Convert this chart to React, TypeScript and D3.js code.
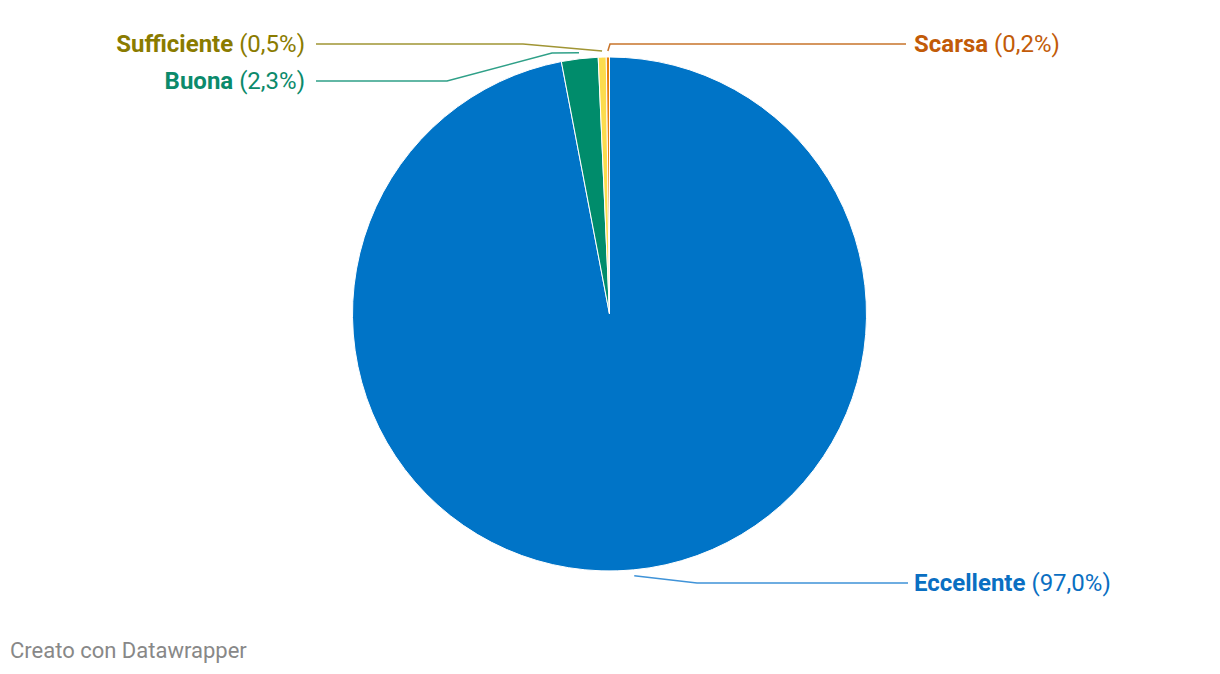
import React from "react";
import * as d3 from "d3";

const categories = ["Eccellente", "Buona", "Sufficiente", "Scarsa"];
const values = [97.0, 2.3, 0.5, 0.2];
const valueLabels = ["97,0%", "2,3%", "0,5%", "0,2%"];
const sliceColors = ["#0074c7", "#008c6b", "#fcdc4d", "#e87f0e"];
const textColors = ["#0a6fc2", "#0b8a6b", "#8a7b00", "#c25b08"];
const lineColors = ["#3f93d8", "#2fa088", "#a09534", "#c8742b"];

const W = 1220, H = 674;
const cx = 609.5, cy = 314, R = 257;

// label layout: side, label y, elbow points (x,y) after the start point
const layout = [
  { side: "right", y: 583, elbows: [[697, 583]], endX: 908, textX: 914 },
  { side: "left", y: 81, elbows: [[552, 53], [447, 81]], endX: 316, textX: 305 },
  { side: "left", y: 44, elbows: [[523, 44]], endX: 316, textX: 305 },
  { side: "right", y: 44, elbows: [[610, 44]], endX: 906, textX: 914 },
];

export default function App() {
  const pie = d3.pie<number>().sort(null).value((d) => d);
  const arcs = pie(values);
  const arc = d3.arc<d3.PieArcDatum<number>>().innerRadius(0).outerRadius(R);
  const line = d3.line();

  return (
    <div style={{ position: "absolute", left: 0, top: 0 }}>
      <svg width={W} height={H} style={{ display: "block", fontFamily: "Roboto, sans-serif" }}>
        <rect width={W} height={H} fill="#fff" />
        <g transform={`translate(${cx},${cy})`}>
          {arcs.map((a, i) => (
            <path key={i} d={arc(a) || ""} fill={sliceColors[i]} stroke="#fff" strokeWidth={1} />
          ))}
        </g>
        {arcs.map((a, i) => {
          const mid = (a.startAngle + a.endAngle) / 2;
          const rr = R + 6;
          const sx = cx + Math.sin(mid) * rr;
          const sy = cy - Math.cos(mid) * rr;
          const L = layout[i];
          const pts: [number, number][] = [[sx, sy], ...(L.elbows as [number, number][]), [L.endX, L.y]];
          return (
            <path key={"l" + i} d={line(pts) || ""} fill="none" stroke={lineColors[i]} strokeWidth={1.5} />
          );
        })}
        {categories.map((c, i) => {
          const L = layout[i];
          return (
            <text
              key={"t" + i}
              x={L.textX}
              y={L.y}
              dy="0.35em"
              textAnchor={L.side === "right" ? "start" : "end"}
              fill={textColors[i]}
              fontSize={24}
            >
              <tspan fontWeight={700}>{c}</tspan>
              <tspan> ({valueLabels[i]})</tspan>
            </text>
          );
        })}
        <text x={10} y={658} fill="#888" fontSize={22}>Creato con Datawrapper</text>
      </svg>
    </div>
  );
}
